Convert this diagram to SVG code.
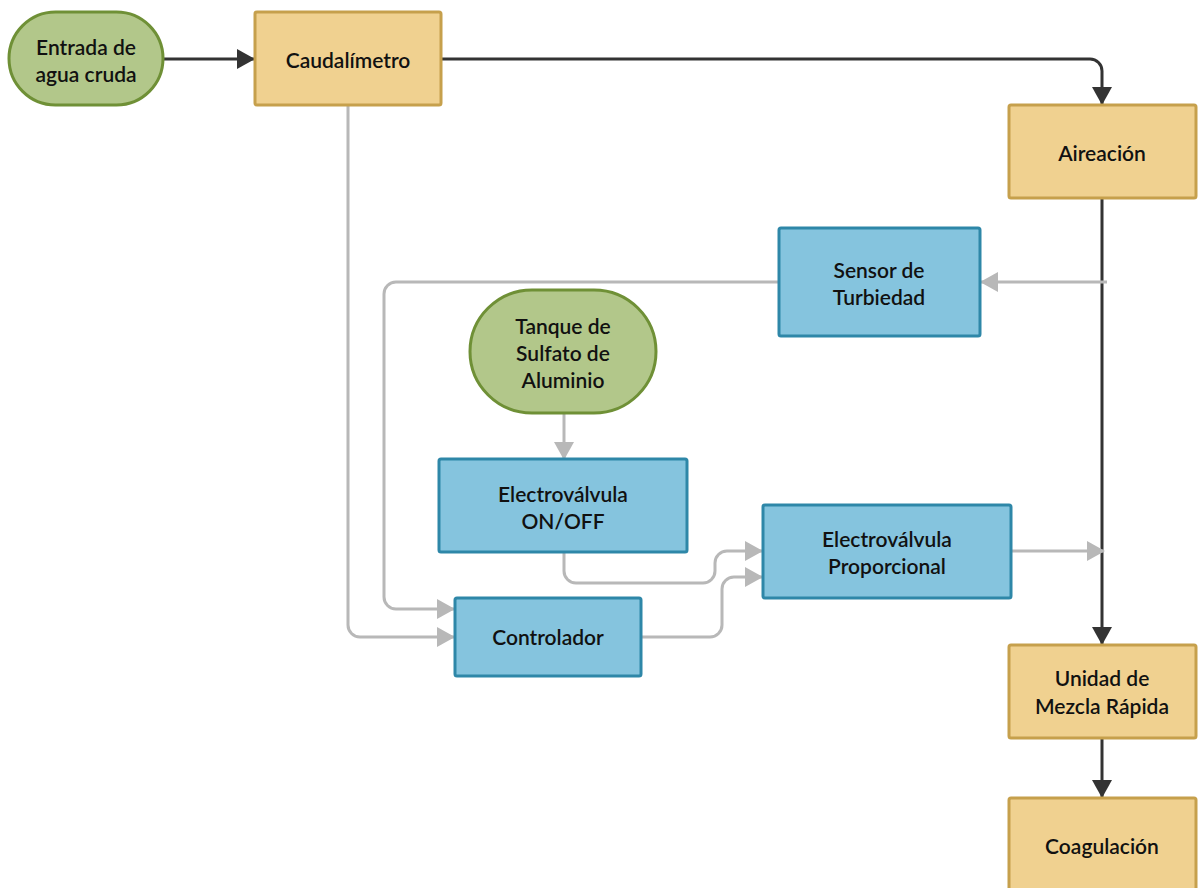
<svg xmlns="http://www.w3.org/2000/svg" width="1198" height="888" viewBox="0 0 1198 888">
  <style>
    .lbl { font-family: Lato, "Open Sans", "Liberation Sans", sans-serif; font-size: 21px; font-weight: 600; fill: #111; text-anchor: middle; dominant-baseline: central; }
    .green { fill: #b2c78a; stroke: #6f9036; stroke-width: 3; }
    .sand { fill: #f0d190; stroke: #c6a04c; stroke-width: 3; }
    .blue { fill: #85c4de; stroke: #2e87a8; stroke-width: 3; }
    .flow { fill: none; stroke: #333333; stroke-width: 3; }
    .sig { fill: none; stroke: #b8b8b8; stroke-width: 3; }
  </style>
  <defs>
    <marker id="arrowDark" markerUnits="userSpaceOnUse" viewBox="0 0 18 20" markerWidth="18" markerHeight="20" refX="17" refY="10" orient="auto">
      <path d="M0,0 L18,10 L0,20 z" fill="#333333"/>
    </marker>
    <marker id="arrowGray" markerUnits="userSpaceOnUse" viewBox="0 0 18 20" markerWidth="18" markerHeight="20" refX="17" refY="10" orient="auto">
      <path d="M0,0 L18,10 L0,20 z" fill="#b8b8b8"/>
    </marker>
  </defs>

  <rect width="1198" height="888" fill="#ffffff"/>

  <!-- connectors -->
  <g id="connectors">
    <path class="flow" d="M163,59 H254" marker-end="url(#arrowDark)"/>
    <path class="flow" d="M441,59 H1090 A12,12 0 0 1 1102,71 V104" marker-end="url(#arrowDark)"/>
    <path class="flow" d="M1102,198 V644" marker-end="url(#arrowDark)"/>
    <path class="flow" d="M1102,738 V797" marker-end="url(#arrowDark)"/>

    <path class="sig" d="M1107,282 H981" marker-end="url(#arrowGray)"/>
    <path class="sig" d="M778,282 H396 A12,12 0 0 0 384,294 V597 A12,12 0 0 0 396,609 H454" marker-end="url(#arrowGray)"/>
    <path class="sig" d="M348,106 V625 A12,12 0 0 0 360,637 H454" marker-end="url(#arrowGray)"/>
    <path class="sig" d="M564,414 V459" marker-end="url(#arrowGray)"/>
    <path class="sig" d="M564,553 V571 A12,12 0 0 0 576,583 H703 A12,12 0 0 0 715,571 V563 A12,12 0 0 1 727,551 H762" marker-end="url(#arrowGray)"/>
    <path class="sig" d="M641,637 H710 A12,12 0 0 0 722,625 V589 A12,12 0 0 1 734,577 H762" marker-end="url(#arrowGray)"/>
    <path class="sig" d="M1011,551 H1104" marker-end="url(#arrowGray)"/>
  </g>

  <!-- nodes -->
  <g id="entrada">
    <rect class="green" x="9" y="12" width="154" height="93" rx="46.5" ry="46.5"/>
    <text class="lbl"><tspan x="86" y="46">Entrada de</tspan><tspan x="86" y="73">agua cruda</tspan></text>
  </g>

  <g id="caudalimetro">
    <rect class="sand" x="255" y="12" width="186" height="93" rx="2"/>
    <text class="lbl" x="348" y="59">Caudalímetro</text>
  </g>

  <g id="aireacion">
    <rect class="sand" x="1009" y="105" width="187" height="93" rx="2"/>
    <text class="lbl" x="1102" y="152">Aireación</text>
  </g>

  <g id="sensor">
    <rect class="blue" x="779" y="228" width="201" height="108" rx="2"/>
    <text class="lbl"><tspan x="879" y="269">Sensor de</tspan><tspan x="879" y="296">Turbiedad</tspan></text>
  </g>

  <g id="tanque">
    <rect class="green" x="470" y="290" width="186" height="123" rx="62" ry="61.5"/>
    <text class="lbl"><tspan x="563" y="325">Tanque de</tspan><tspan x="563" y="352">Sulfato de</tspan><tspan x="563" y="379">Aluminio</tspan></text>
  </g>

  <g id="valvula-onoff">
    <rect class="blue" x="439" y="459" width="248" height="93" rx="2"/>
    <text class="lbl"><tspan x="563" y="493">Electroválvula</tspan><tspan x="563" y="520">ON/OFF</tspan></text>
  </g>

  <g id="valvula-proporcional">
    <rect class="blue" x="763" y="505" width="248" height="93" rx="2"/>
    <text class="lbl"><tspan x="887" y="538">Electroválvula</tspan><tspan x="887" y="565">Proporcional</tspan></text>
  </g>

  <g id="controlador">
    <rect class="blue" x="455" y="598" width="186" height="78" rx="2"/>
    <text class="lbl" x="548" y="636">Controlador</text>
  </g>

  <g id="mezcla-rapida">
    <rect class="sand" x="1009" y="645" width="187" height="93" rx="2"/>
    <text class="lbl"><tspan x="1102" y="677">Unidad de</tspan><tspan x="1102" y="705">Mezcla Rápida</tspan></text>
  </g>

  <g id="coagulacion">
    <rect class="sand" x="1009" y="798" width="187" height="92" rx="2"/>
    <text class="lbl" x="1102" y="845">Coagulación</text>
  </g>
</svg>
